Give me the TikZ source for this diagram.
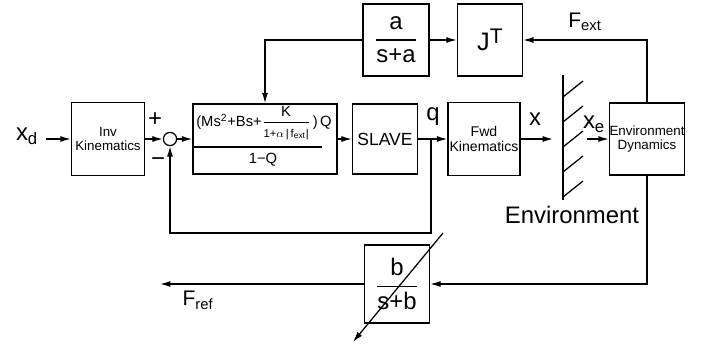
\documentclass[tikz,border=0pt]{standalone}
\usepackage{amsmath}
\usepackage{fontspec}
\setmainfont{Liberation Sans}
\usetikzlibrary{arrows.meta}
\newcommand{\fsz}[1]{\fontsize{#1}{#1}\selectfont}

\begin{document}
\begin{tikzpicture}[x=0.025cm, y=-0.025cm,
    block/.style={draw, line width=1pt, inner sep=0pt, align=center},
    arrow/.style={-{Latex[length=2.6mm, width=1.5mm]}, line width=0.9pt},
    wire/.style={line width=0.9pt},
    sig/.style={font=\fsz{17}, inner sep=0pt}
]
\useasboundingbox (0,0) rectangle (705,348);

% Forward path
\node[block, minimum width=1.825cm, minimum height=1.825cm, font=\fsz{9.5}] (inv) at (108,139) {Inv\\Kinematics};
\node[circle, draw, line width=0.9pt, minimum size=0.33cm, inner sep=0pt] (sum) at (170,139) {};
\node[block, minimum width=3.6cm, minimum height=1.75cm] (ctrl) at (265,139) {};
\node[block, minimum width=1.625cm, minimum height=1.75cm, font=\fsz{12.5}] (slave) at (385,139) {SLAVE};
\node[block, minimum width=1.8cm, minimum height=1.825cm, font=\fsz{10}] (fwd) at (484,139) {Fwd\\Kinematics};
\node[block, minimum width=1.8cm, minimum height=1.8cm, font=\fsz{9.5}] (envdyn) at (647,139) {Environment\\Dynamics};

% Controller contents
\node[font=\fsz{10.5}, inner sep=0pt] (ctrlnum) at (264,123) {(Ms\textsuperscript{2}+Bs+$\genfrac{}{}{0.7pt}{0}{\mbox{\fsz{10.5}K}}{\mbox{\fsz{8}1+$\alpha$\,|\,f\textsubscript{ext}|}}$\,)\,Q};
\draw[wire] (193,147) -- (322,147);
\node[font=\fsz{10.5}, inner sep=0pt] (ctrlden) at (263,160) {1−Q};

% Force loop
\node[block, minimum width=1.65cm, minimum height=1.8cm, font=\fsz{17}] (lp) at (396,40) {$\genfrac{}{}{1pt}{0}{\mbox{a}}{\mbox{s+a}}$};
\node[block, minimum width=1.625cm, minimum height=1.8cm, font=\fsz{18}] (jt) at (490,40) {J\raisebox{0.55ex}{\fsz{15}T}};
\node[block, minimum width=1.625cm, minimum height=1.95cm, font=\fsz{17}] (hp) at (397,284) {$\genfrac{}{}{1pt}{0}{\mbox{b}}{\mbox{s+b}}$};

% Free ends
\coordinate (xdin) at (46,139);
\coordinate (br) at (431,139);
\coordinate (fbc) at (170,233);
\coordinate (xout) at (553,139);
\coordinate (xein) at (587,139);
\coordinate (fref) at (160,284);
\coordinate (dgs) at (443,233);
\coordinate (dge) at (353,342);

% Connectors
\draw[arrow] (xdin) -- (inv);
\draw[arrow] (inv) -- (sum);
\draw[arrow] (sum) -- (ctrl);
\draw[arrow] (ctrl) -- (slave);
\draw[arrow] (slave) -- (fwd);
\draw[arrow] (br) |- (fbc) -- (sum);
\draw[arrow] (fwd) -- (xout);
\draw[arrow] (xein) -- (envdyn);
\draw[arrow] (envdyn) |- (jt);
\draw[arrow] (lp) -- (jt);
\draw[arrow] (lp) -| (ctrl);
\draw[arrow] (envdyn) |- (hp);
\draw[arrow] (hp) -- (fref);
\draw[arrow] (dgs) -- (dge);

% Wall
\draw[line width=1pt] (563,75) -- (563,200);
\foreach \y in {97,122,147,172,197}
    \draw[wire] (563,\y) -- ++(20,-16);

% Labels
\node[sig] (plus) at (155,120) {+};
\node[sig] (minus) at (158,162) {−};
\node[sig] (xdlbl) at (27,136) {x\textsubscript{d}};
\node[sig] (qlbl) at (433,117) {q};
\node[sig] (xlbl) at (535,119) {x};
\node[sig] (xelbl) at (594,124) {x\textsubscript{e}};
\node[font=\fsz{15}, inner sep=0pt] (fextlbl) at (585,22) {F\textsubscript{ext}};
\node[font=\fsz{15}, inner sep=0pt] (freflbl) at (198,300) {F\textsubscript{ref}};
\node[font=\fsz{17}, inner sep=0pt] (envlbl) at (572,215) {Environment};
\end{tikzpicture}
\end{document}
